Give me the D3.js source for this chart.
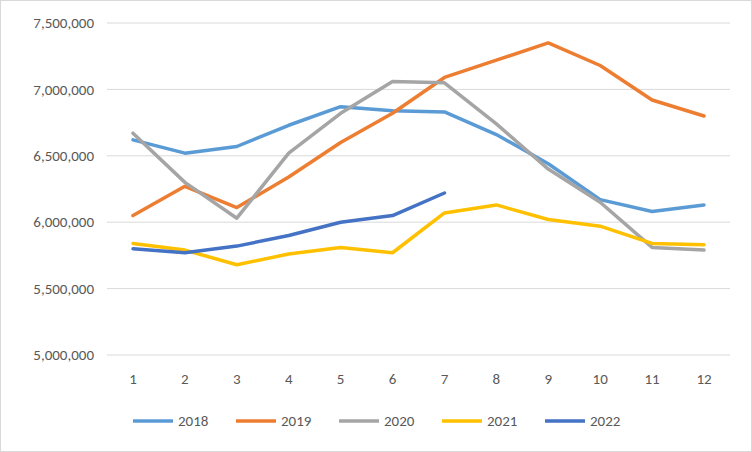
<html>
<head>
<script src="https://d3js.org/d3.v7.min.js"></script>
<style>
  body { margin: 0; background: #fff; }
  text { font-family: Carlito, "Liberation Sans", sans-serif; font-size: 15px; fill: #595959; }
</style>
</head>
<body>
<svg id="chart" width="752" height="452"></svg>
<script>
const months = [1, 2, 3, 4, 5, 6, 7, 8, 9, 10, 11, 12];
const years = ["2018", "2019", "2020", "2021", "2022"];
const colors = ["#5B9BD5", "#ED7D31", "#A5A5A5", "#FFC000", "#4472C4"];
const v2018 = [6620000, 6520000, 6570000, 6730000, 6870000, 6840000, 6830000, 6660000, 6440000, 6170000, 6080000, 6130000];
const v2019 = [6050000, 6270000, 6110000, 6340000, 6600000, 6820000, 7090000, 7220000, 7350000, 7180000, 6920000, 6800000];
const v2020 = [6670000, 6300000, 6030000, 6520000, 6820000, 7060000, 7050000, 6740000, 6400000, 6150000, 5810000, 5790000];
const v2021 = [5840000, 5790000, 5680000, 5760000, 5810000, 5770000, 6070000, 6130000, 6020000, 5970000, 5840000, 5830000];
const v2022 = [5800000, 5770000, 5820000, 5900000, 6000000, 6050000, 6220000];
const yTicks = [5000000, 5500000, 6000000, 6500000, 7000000, 7500000];
const series = [v2018, v2019, v2020, v2021, v2022];

const svg = d3.select("#chart");
svg.append("rect").attr("x", 0.5).attr("y", 0.5).attr("width", 751).attr("height", 451)
  .attr("fill", "#fff").attr("stroke", "#d9d9d9");

const x = d3.scalePoint().domain(months).range([133, 704]);
const y = d3.scaleLinear().domain([5000000, 7500000]).range([355, 23]);

svg.append("g").selectAll("line").data(yTicks.slice(1)).join("line")
  .attr("x1", 107).attr("x2", 730).attr("y1", d => y(d)).attr("y2", d => y(d))
  .attr("stroke", "#d9d9d9");
svg.append("line").attr("x1", 107).attr("x2", 730).attr("y1", y(5000000)).attr("y2", y(5000000))
  .attr("stroke", "#d9d9d9");

svg.append("g").selectAll("text").data(yTicks).join("text")
  .attr("x", 94).attr("y", d => y(d)).attr("dy", "0.35em").attr("text-anchor", "end")
  .text(d => d3.format(",")(d));
svg.append("g").selectAll("text").data(months).join("text")
  .attr("x", d => x(d)).attr("y", 384).attr("text-anchor", "middle").text(d => d);

const line = d3.line().x((d, i) => x(months[i])).y(d => y(d));
series.forEach((s, i) => {
  svg.append("path").datum(s).attr("d", line).attr("fill", "none")
    .attr("stroke", colors[i]).attr("stroke-width", 3.5).attr("stroke-linejoin", "round").attr("stroke-linecap", "round");
});

const leg = svg.append("g").selectAll("g").data(years).join("g")
  .attr("transform", (d, i) => `translate(${133 + i * 103},421)`);
leg.append("line").attr("x1", 0).attr("x2", 40).attr("stroke", (d, i) => colors[i]).attr("stroke-width", 3.5);
leg.append("text").attr("x", 45).attr("dy", "0.35em").text(d => d);
</script>
</body>
</html>
